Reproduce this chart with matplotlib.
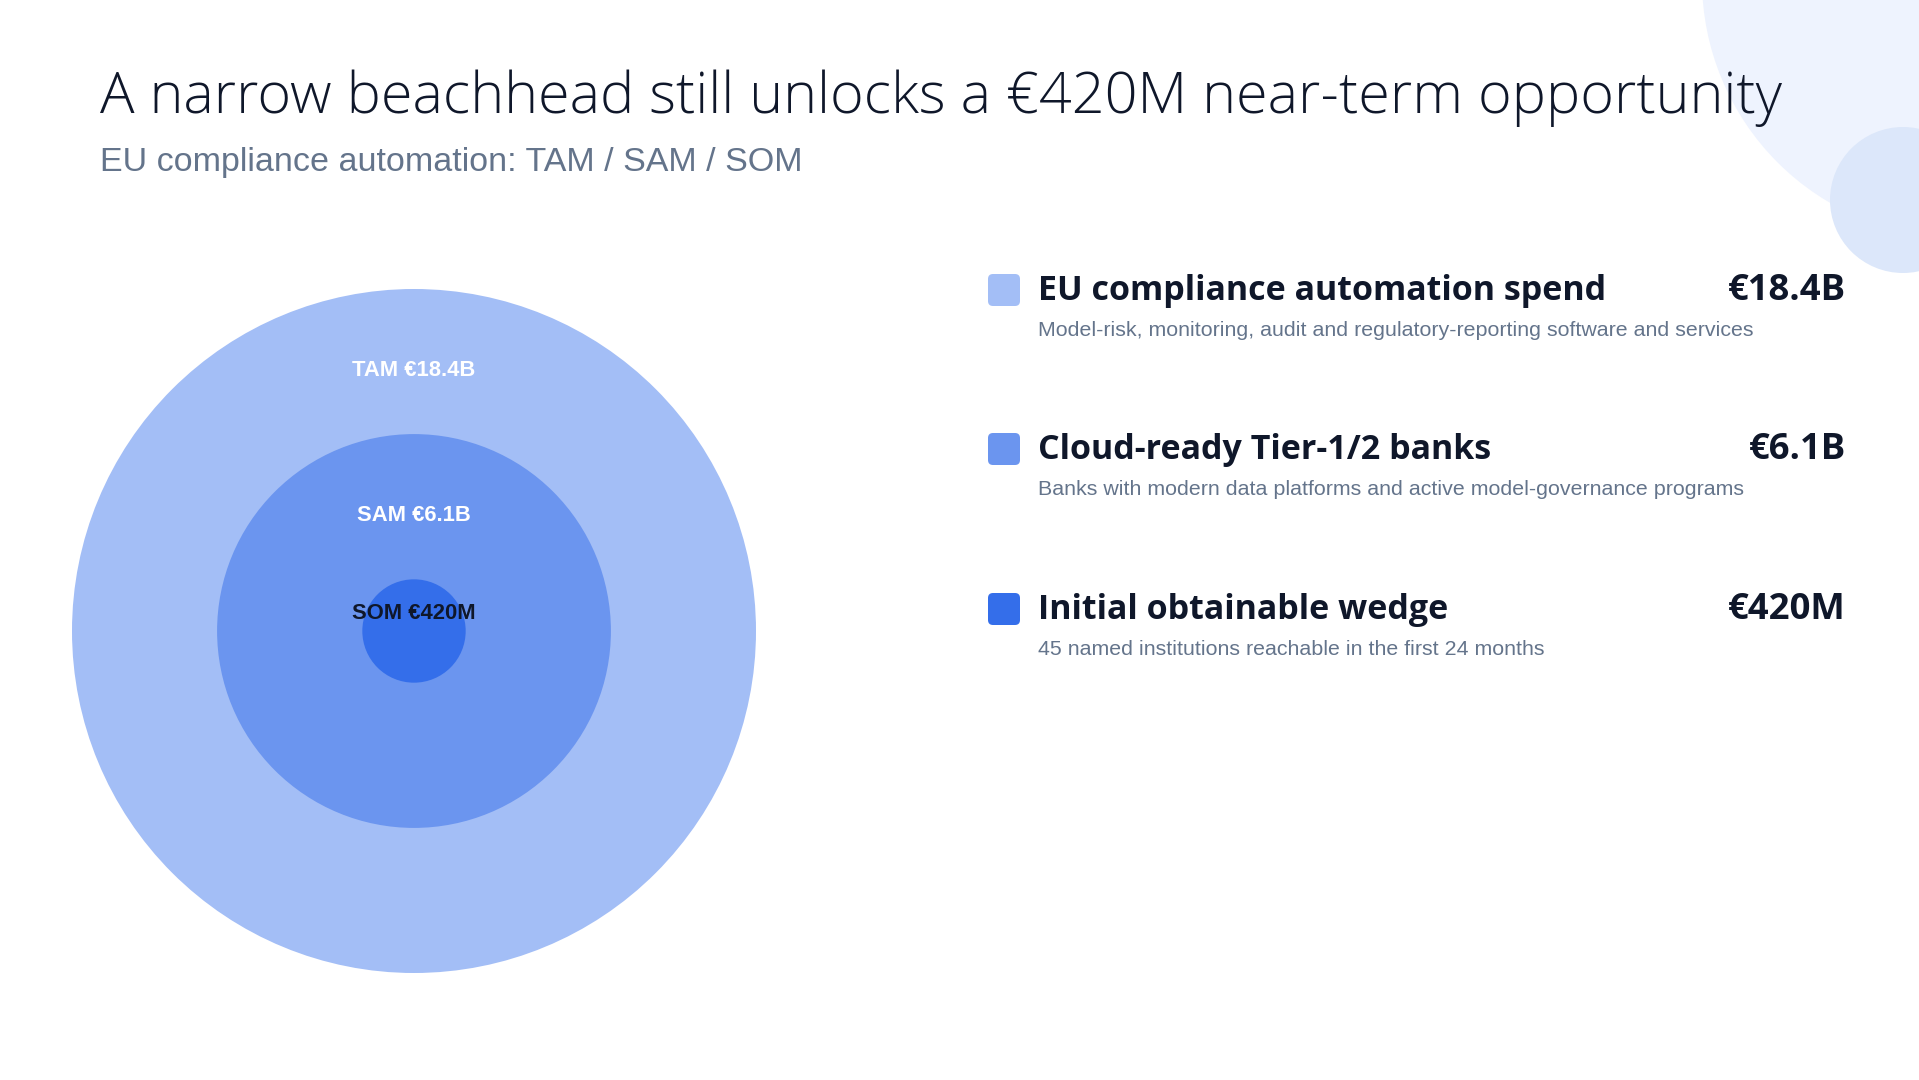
import matplotlib
matplotlib.use("Agg")
import matplotlib.pyplot as plt
from matplotlib.patches import Circle, FancyBboxPatch
import numpy as np

# ---- data ----
segments = ["TAM", "SAM", "SOM"]
values_b = [18.4, 6.1, 0.42]
value_labels = ["€18.4B", "€6.1B", "€420M"]
headings = ["EU compliance automation spend", "Cloud-ready Tier-1/2 banks", "Initial obtainable wedge"]
descriptions = [
    "Model-risk, monitoring, audit and regulatory-reporting software and services",
    "Banks with modern data platforms and active model-governance programs",
    "45 named institutions reachable in the first 24 months",
]
colors = ["#A3BEF6", "#6B95EF", "#346EEA"]
label_colors = ["white", "white", "#0F172A"]
title = "A narrow beachhead still unlocks a €420M near-term opportunity"
subtitle = "EU compliance automation: TAM / SAM / SOM"

DARK = "#0F172A"
SLATE = "#64748B"

fig = plt.figure(figsize=(19.19, 10.80), dpi=100)
ax = fig.add_axes([0, 0, 1, 1])
ax.set_xlim(0, 1919)
ax.set_ylim(1080, 0)
ax.axis("off")

# decorative circles
ax.add_patch(Circle((1960, -20), 258, color="#EEF3FE", lw=0, zorder=0))
ax.add_patch(Circle((1903, 200), 73, color="#DCE7FA", lw=0, zorder=0))

renderer = fig.canvas.get_renderer()

def fit(t, target_w):
    bb = t.get_window_extent(renderer)
    t.set_fontsize(t.get_fontsize() * target_w / bb.width)

t = ax.text(100, 113, title, fontsize=40, family=["Open Sans", "DejaVu Sans"], weight="light",
            color=DARK, va="baseline", ha="left")
fit(t, 1676)
t = ax.text(100, 171, subtitle, fontsize=20, family=["Liberation Sans", "DejaVu Sans"],
            color=SLATE, va="baseline", ha="left")
fit(t, 701)

# concentric circles (area-proportional)
cx, cy, rmax = 414, 631, 342
vmax = max(values_b)
for i, (seg, v, col) in enumerate(zip(segments, values_b, colors)):
    r = rmax * np.sqrt(v / vmax)
    ax.add_patch(Circle((cx, cy), r, color=col, lw=0, zorder=1 + i))
for i, (seg, v, lab, lc) in enumerate(zip(segments, values_b, value_labels, label_colors)):
    r = rmax * np.sqrt(v / vmax)
    ly = cy - r + min(81, 0.66 * r)
    ax.text(cx, ly, f"{seg} {lab}", fontsize=15.8, family=["Liberation Sans", "DejaVu Sans"],
            weight="bold", color=lc, ha="center", va="center", zorder=10)

# legend rows
row_y = [300, 459, 619]
head_scale = None
desc_scale = None
for i in range(3):
    y = row_y[i]
    ax.add_patch(FancyBboxPatch((988, y - 26), 32, 32,
                                boxstyle="round,pad=0,rounding_size=5",
                                fc=colors[i], ec="none", zorder=2))
    h = ax.text(1038, y, headings[i], fontsize=22, family=["Open Sans", "DejaVu Sans"], weight="bold",
                color=DARK, va="baseline", ha="left")
    v = ax.text(1846, y, value_labels[i], fontsize=22, family=["Open Sans", "DejaVu Sans"], weight="bold",
                color=DARK, va="baseline", ha="right")
    d = ax.text(1038, y + 36, descriptions[i], fontsize=14, family=["Liberation Sans", "DejaVu Sans"],
                color=SLATE, va="baseline", ha="left")
    if i == 0:
        fit(h, 569)
        head_scale = h.get_fontsize()
        fit(d, 723)
        desc_scale = d.get_fontsize()
    else:
        h.set_fontsize(head_scale)
        d.set_fontsize(desc_scale)
    v.set_fontsize(head_scale * 1.07)

fig.savefig("out.png", dpi=100, facecolor="white")
